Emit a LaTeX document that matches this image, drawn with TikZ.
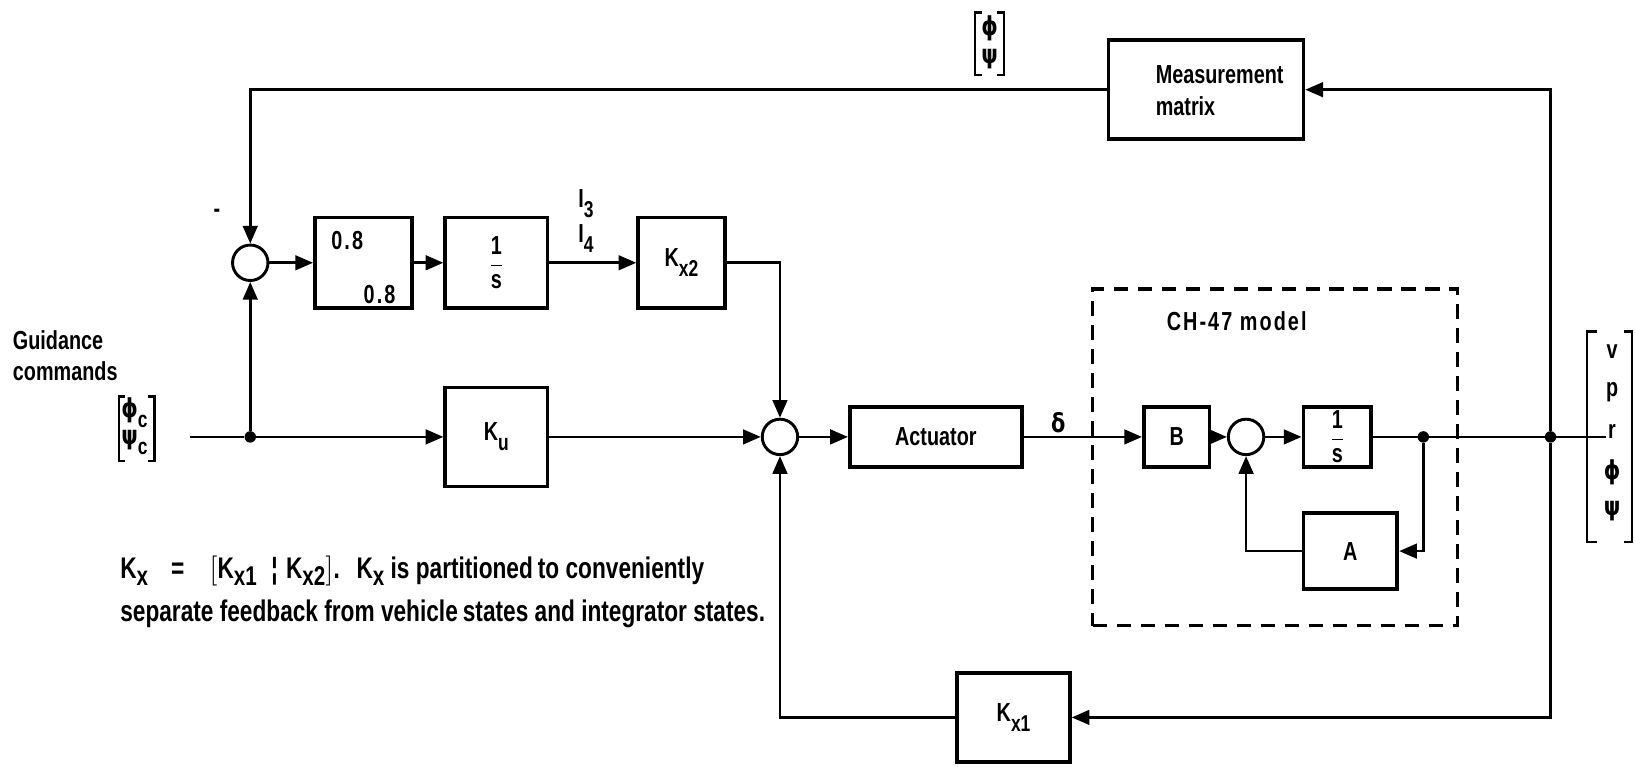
\documentclass[tikz,border=0pt]{standalone}
\usepackage{fontspec}
\setmainfont{Liberation Sans}[FakeStretch=0.76]
\newfontfamily\spacedfont{Liberation Sans}[FakeStretch=0.76,LetterSpace=8]
\newfontfamily\grk{DejaVu Sans}[FakeStretch=0.8]
\usetikzlibrary{arrows.meta}
\newcommand{\lowsub}[1]{\raisebox{-0.38em}{\fontsize{11}{12}\selectfont #1}}
\newcommand{\capsub}[1]{\raisebox{-0.24em}{\fontsize{13}{14}\selectfont #1}}
\newcommand{\onesfrac}{$\displaystyle\frac{\hbox{1}}{\hbox{s}}$}
\begin{document}
\begin{tikzpicture}[x=0.5pt,y=-0.5pt,
  txt/.style={font=\fontsize{12.5}{15}\selectfont\bfseries},
  blk/.style={draw, line width=1.8pt, inner sep=0pt, txt},
  sumj/.style={draw, circle, line width=1.4pt, minimum size=17pt, inner sep=0pt},
  sig/.style={line width=1.3pt},
  arr/.style={sig, -{Triangle[length=8.5pt,width=7pt]}},
  dot/.style={circle, fill, inner sep=0pt, minimum size=5.5pt},
  lbl/.style={txt, inner sep=0pt},
  brk/.style={line width=1.2pt}]
\useasboundingbox (0,0) rectangle (1568,735);

% blocks
\node[blk, minimum width=93.5pt, minimum height=47.5pt] (meas) at (1156.5,86) {};
\node[lbl, align=left, anchor=west] at (1108,87) {Measurement\\matrix};
\node[blk, minimum width=46.5pt, minimum height=43.5pt] (g) at (348.5,252) {};
\node[blk, minimum width=49pt, minimum height=43.5pt] (i1) at (476,252) {\onesfrac};
\node[blk, minimum width=41.5pt, minimum height=43.5pt] (kx2) at (653.5,252) {K\lowsub{x2}};
\node[blk, minimum width=49pt, minimum height=47.5pt] (ku) at (476,419) {K\lowsub{u}};
\node[blk, minimum width=82.5pt, minimum height=28.5pt] (act) at (897.5,419) {Actuator};
\node[blk, minimum width=31.5pt, minimum height=28.5pt] (B) at (1128.5,419) {B};
\node[blk, minimum width=32.5pt, minimum height=28.5pt] (i2) at (1282.5,419) {\onesfrac};
\node[blk, minimum width=45pt, minimum height=36.5pt] (A) at (1295,528.5) {A};
\node[blk, minimum width=54pt, minimum height=42.5pt] (kx1) at (972,688) {K\lowsub{x1}};
\node[draw, line width=1.6pt, dash pattern=on 7pt off 4.5pt, minimum width=175pt, minimum height=161.5pt, inner sep=0pt] (ch) at (1223,438.5) {};

% summing junctions
\node[sumj] (s1) at (240,252) {};
\node[sumj] (s2) at (748,419) {};
\node[sumj] (s3) at (1195,419) {};

% coordinates
\coordinate (in) at (182,419);
\node[dot] (j1) at (240,419) {};
\node[dot] (j2) at (1487,419) {};
\node[dot] (j3) at (1365,419) {};
\coordinate (out) at (1540,419);

% connectors
\draw[arr] (meas.west) -| (s1.north);
\draw[sig] (in) -- (j1);
\draw[arr] (j1) -- (s1.south);
\draw[arr] (j1) -- (ku.west);
\draw[arr] (s1.east) -- (g.west);
\draw[arr] (g.east) -- (i1.west);
\draw[arr] (i1.east) -- (kx2.west);
\draw[arr] (kx2.east) -| (s2.north);
\draw[arr] (ku.east) -- (s2.west);
\draw[arr] (s2.east) -- (act.west);
\draw[arr] (act.east) -- (B.west);
\draw[arr] (B.east) -- (s3.west);
\draw[arr] (s3.east) -- (i2.west);
\draw[sig] (i2.east) -- (out);
\draw[arr] (j3) |- (A.east);
\draw[arr] (A.west) -| (s3.south);
\draw[arr] (j2) |- (meas.east);
\draw[arr] (j2) |- (kx1.east);
\draw[arr] (kx1.west) -| (s2.south);

% labels
\node[lbl] at (333,231) {\spacedfont 0.8};
\node[lbl] at (364,282) {\spacedfont 0.8};
\node[lbl] at (208,205) {-};
\node[lbl, align=left] at (562,212) {I\lowsub{3}\\[2pt]I\lowsub{4}};
\node[lbl] at (1015,405) {\grk δ};
\node[lbl] at (1186,308) {\spacedfont CH-47 model};
\node[lbl, align=left, anchor=west] at (12,341) {Guidance\\commands};

% guidance command vector
\node[lbl] (pc) at (129,396) {{\grk ϕ}\lowsub{c}};
\node[lbl] (yc) at (129,424) {{\grk ψ}\lowsub{c}};
\draw[brk] (120,380) -- (114,380) -- (114,442) -- (120,442);
\draw[brk] (142,380) -- (148,380) -- (148,442) -- (142,442);

% measured vector
\node[lbl] (pm) at (949,27) {\grk ϕ};
\node[lbl] (ym) at (949,57) {\grk ψ};
\draw[brk] (942,12) -- (935,12) -- (935,72) -- (942,72);
\draw[brk] (956,12) -- (963,12) -- (963,72) -- (956,72);

% output vector
\node[lbl] (ov) at (1546,337) {v};
\node[lbl] (op) at (1546,376) {p};
\node[lbl] (or) at (1546,414) {r};
\node[lbl] (of) at (1546,453) {\grk ϕ};
\node[lbl] (oy) at (1546,490) {\grk ψ};
\draw[brk] (1532,318) -- (1522,318) -- (1522,520) -- (1532,520);
\draw[brk] (1557,318) -- (1565,318) -- (1565,520) -- (1557,520);

% caption
\node[lbl, anchor=base west, font=\fontsize{14.3}{16}\selectfont\bfseries] (cap1) at (115,555) {K\capsub{x}\hspace{11pt}=\hspace{12pt}$\Bigl[$K\capsub{x1}\hspace{7pt}¦\hspace{4pt}K\capsub{x2}$\Bigr]$.\hspace{8pt}K\capsub{x} is partitioned\,to conveniently};
\node[lbl, anchor=base west, font=\fontsize{14.3}{16}\selectfont\bfseries] (cap2) at (115,596) {separate feedback from vehicle\,states and integrator states.};
\end{tikzpicture}
\end{document}
